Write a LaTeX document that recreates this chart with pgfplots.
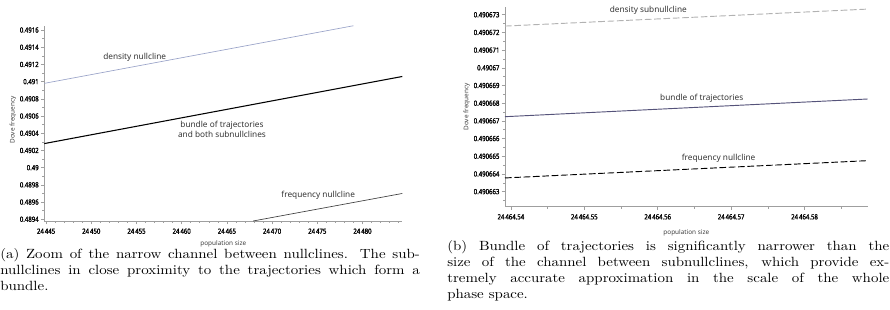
\documentclass[border=0pt]{standalone}
\usepackage{fontspec}
\setsansfont{Noto Sans}
\newfontfamily\tickfont{Noto Sans}[FakeBold=1.6]
\usepackage{graphicx}
\usepackage{pgfplots}
\pgfplotsset{compat=1.18}
\definecolor{dens}{HTML}{9AA3C8}
\definecolor{bund}{HTML}{55537A}
\newcommand{\tl}[1]{\scalebox{0.85}[1]{#1}}
\tikzset{lbl/.style={font=\sffamily\fontsize{6.2}{7.4}\selectfont, text=black!80, align=center, inner sep=0pt}}
\begin{document}
\begin{tikzpicture}
\useasboundingbox (0,0) rectangle (667.5pt,232.5pt);
\pgfplotsset{
 myaxis/.style={
  scale only axis, anchor=south west,
  axis x line=bottom, axis y line=left,
  axis line style={-, gray!75, line width=0.5pt},
  tick style={gray!75, line width=0.4pt},
  major tick length=2.5pt, minor tick length=1.5pt,
  tick align=outside,
  tick label style={font=\tickfont\bfseries\fontsize{5.3}{6.3}\selectfont, text=black, inner sep=1.5pt},
  x tick label style={yshift=-1.5pt},
  label style={font=\sffamily\fontsize{4.8}{5.8}\selectfont, text=black!75},
  clip=false,
 },
}
% (a) x values stored as (population size - 24440)
\begin{axis}[myaxis, at={(33.2pt,66.75pt)}, width=268.5pt, height=146.25pt,
  xmin=4.8, xmax=44.4, ymin=0.48938, ymax=0.491647,
  xtick={5,10,15,20,25,30,35,40},
  xticklabels={\tl{24\,445},\tl{24\,450},\tl{24\,455},\tl{24\,460},\tl{24\,465},\tl{24\,470},\tl{24\,475},\tl{24\,480}},
  minor xtick={6,7,8,9,11,12,13,14,16,17,18,19,21,22,23,24,26,27,28,29,31,32,33,34,36,37,38,39,41,42,43,44},
  ytick={0.4894,0.4896,0.4898,0.49,0.4902,0.4904,0.4906,0.4908,0.491,0.4912,0.4914,0.4916},
  yticklabels={\tl{0.4894},\tl{0.4896},\tl{0.4898},\tl{0.49},\tl{0.4902},\tl{0.4904},\tl{0.4906},\tl{0.4908},\tl{0.491},\tl{0.4912},\tl{0.4914},\tl{0.4916}},
  minor ytick={0.4895,0.4897,0.4899,0.4901,0.4903,0.4905,0.4907,0.4909,0.4911,0.4913,0.4915},
  xlabel={population size}, ylabel={Dove frequency},
  x label style={at={(axis description cs:0.5,-0.118)}, anchor=center},
  y label style={at={(axis description cs:-0.0875,0.518)}, anchor=center},
]
\addplot[dens, line width=0.5pt] coordinates {(4.8,0.49098) (39,0.49165)};
\addplot[black, line width=0.8pt] coordinates {(4.8,0.49028) (44.4,0.49106)};
\addplot[black!75, line width=0.5pt] coordinates {(27.9,0.48938) (44.4,0.4897)};
\node[lbl] at (axis cs:14.8,0.49128) {density nullcline};
\node[lbl] at (axis cs:24.46,0.49045) {bundle of trajectories\\and both subnullclines};
\node[lbl] at (axis cs:35.1,0.48968) {frequency nullcline};
\end{axis}
% (b) x values stored as (population size - 24464.5)*100, y values as (Dove frequency - 0.49066)*1e6
\begin{axis}[myaxis, at={(378.75pt,77.5pt)}, width=272pt, height=149.5pt,
  xmin=3.92, xmax=8.86, ymin=2.15, ymax=13.42,
  xtick={4,5,6,7,8},
  xticklabels={\tl{24\,464.54},\tl{24\,464.55},\tl{24\,464.56},\tl{24\,464.57},\tl{24\,464.58}},
  minor xtick={4.5,5.5,6.5,7.5,8.5},
  ytick={3,4,5,6,7,8,9,10,11,12,13},
  yticklabels={\tl{0.490663},\tl{0.490664},\tl{0.490665},\tl{0.490666},\tl{0.490667},\tl{0.490668},\tl{0.490669},\tl{0.49067},\tl{0.490671},\tl{0.490672},\tl{0.490673}},
  minor ytick={2.5,3.5,4.5,5.5,6.5,7.5,8.5,9.5,10.5,11.5,12.5},
  xlabel={population size}, ylabel={Dove frequency},
  x label style={at={(axis description cs:0.5,-0.13)}, anchor=center},
  y label style={at={(axis description cs:-0.1057,0.5)}, anchor=center},
]
\addplot[black!30, line width=0.7pt, dash pattern=on 5pt off 2pt] coordinates {(3.92,12.36) (8.86,13.32)};
\addplot[bund, line width=0.7pt] coordinates {(3.92,7.237) (8.86,8.237)};
\addplot[black, line width=0.7pt, dash pattern=on 5pt off 2pt] coordinates {(3.92,3.774) (8.86,4.751)};
\node[lbl] at (axis cs:5.872,13.27) {density subnullcline};
\node[lbl] at (axis cs:6.6,8.28) {bundle of trajectories};
\node[lbl] at (axis cs:6.83,4.887) {frequency nullcline};
\end{axis}
% captions
\node[anchor=north west, inner sep=0pt] at (0pt,46.1pt)
 {\scalebox{1.12}[1]{\parbox[t]{281pt}{\rmfamily\fontsize{10}{12}\selectfont (a) Zoom of the narrow channel between nullclines. The sub-\linebreak nullclines in close proximity to the trajectories which form a\linebreak bundle.}}};
\node[anchor=north west, inner sep=0pt] at (335.25pt,52.5pt)
 {\scalebox{1.12}[1]{\parbox[t]{296pt}{\rmfamily\fontsize{10}{12}\selectfont (b) Bundle of trajectories is significantly narrower than the\linebreak size of the channel between subnullclines, which provide ex-\linebreak tremely accurate approximation in the scale of the whole\linebreak phase space.}}};
\end{tikzpicture}
\end{document}
